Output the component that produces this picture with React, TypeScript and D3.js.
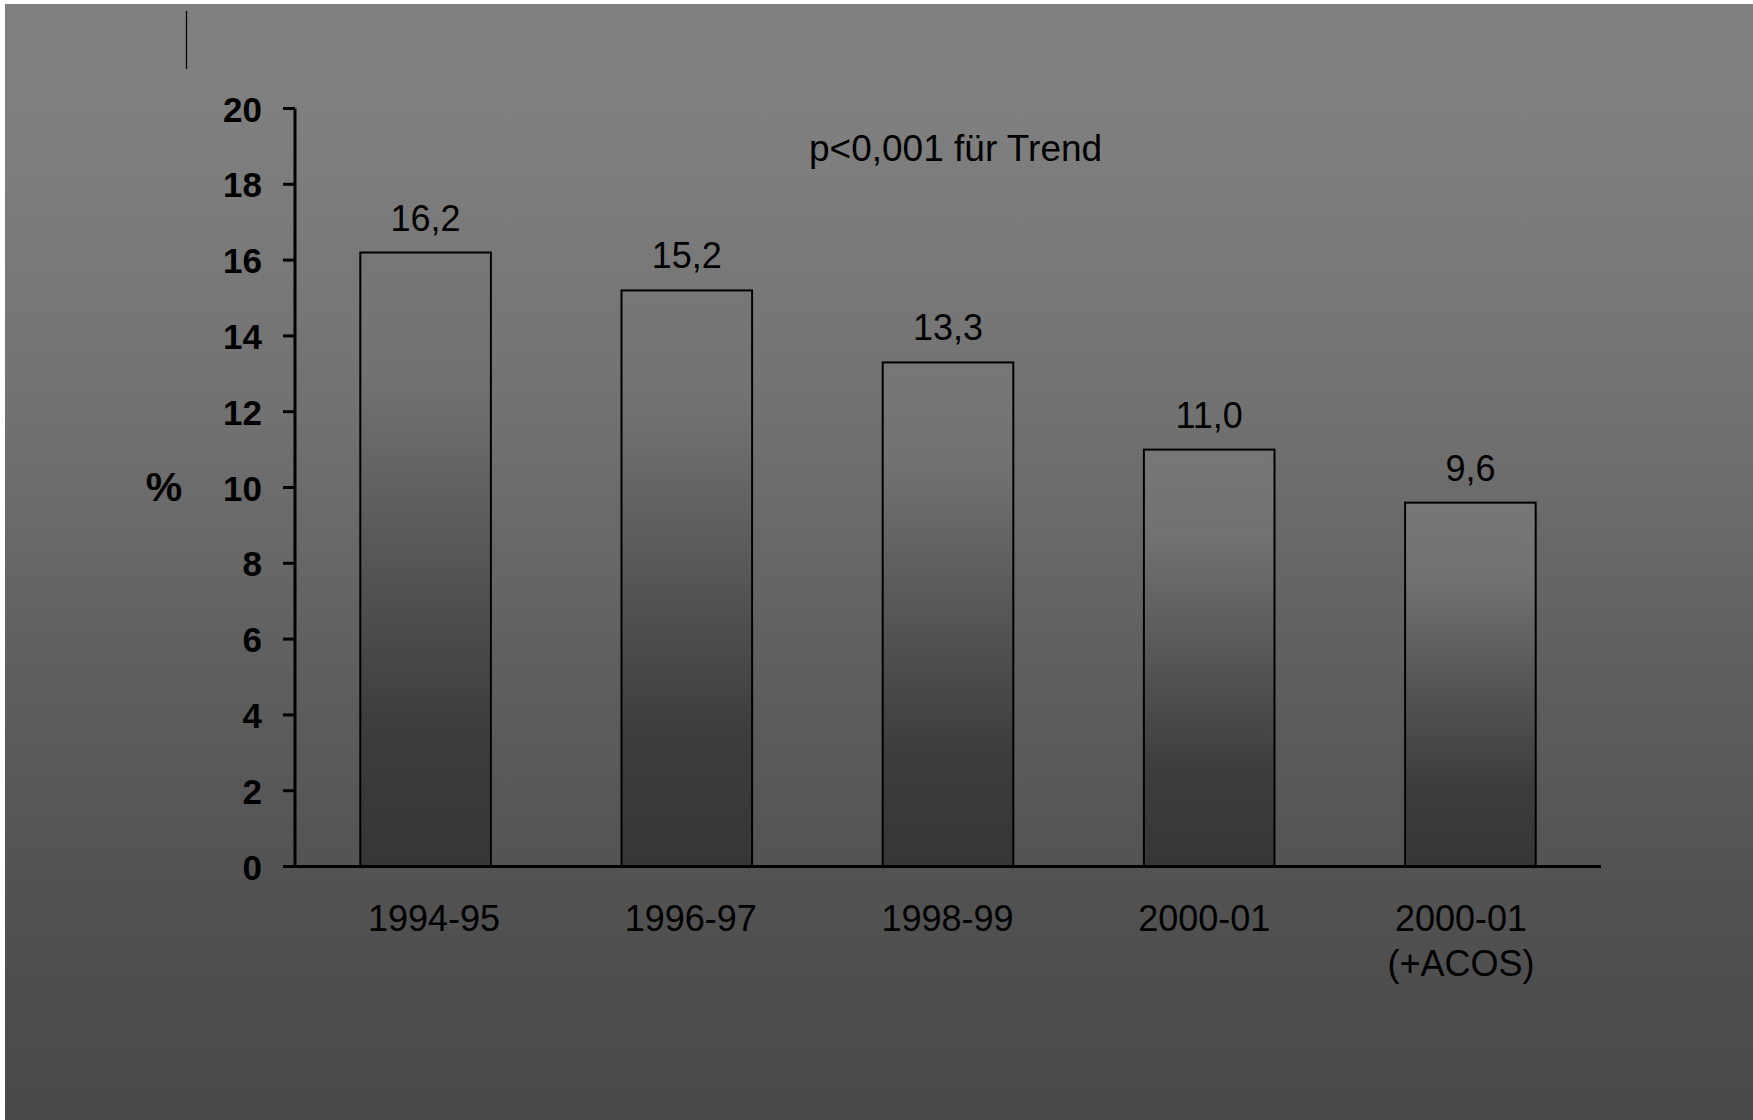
import React from "react";
import * as d3 from "d3";

const categories: string[][] = [
  ["1994-95"],
  ["1996-97"],
  ["1998-99"],
  ["2000-01"],
  ["2000-01", "(+ACOS)"],
];
const values: number[] = [16.2, 15.2, 13.3, 11.0, 9.6];
const valueLabels: string[] = ["16,2", "15,2", "13,3", "11,0", "9,6"];
const yTicks: number[] = [0, 2, 4, 6, 8, 10, 12, 14, 16, 18, 20];
const yAxisTitle = "%";
const annotation = "p<0,001 für Trend";

const W = 1753;
const H = 1120;
const FONT = "Arial, 'Liberation Sans', Helvetica, sans-serif";

export default function App() {
  const x0 = 295;
  const x1 = 1601;
  const yBase = 866.5;
  const yTop = 108.5;

  const keys = categories.map((c, i) => String(i));
  const x = d3
    .scaleBand<string>()
    .domain(keys)
    .range([x0, x1])
    .paddingInner(0.5)
    .paddingOuter(0.25);
  // category labels sit on a slightly narrower spread than the bars
  const xl = d3.scalePoint<string>().domain(keys).range([434, 1461]);
  const y = d3.scaleLinear().domain([0, 20]).range([yBase, yTop]);

  return (
    <svg
      width={W}
      height={H}
      style={{ position: "absolute", left: 0, top: 0, display: "block" }}
      xmlns="http://www.w3.org/2000/svg"
    >
      <defs>
        <linearGradient id="bg" x1="0" y1="0" x2="0" y2="1">
          <stop offset="0" stopColor="#808080" />
          <stop offset="0.13" stopColor="#7e7e7e" />
          <stop offset="0.36" stopColor="#727272" />
          <stop offset="0.62" stopColor="#5d5d5d" />
          <stop offset="0.78" stopColor="#535353" />
          <stop offset="1" stopColor="#484848" />
        </linearGradient>
        <linearGradient id="barGrad" x1="0" y1="0" x2="0" y2="1">
          <stop offset="0" stopColor="#777777" />
          <stop offset="0.2" stopColor="#727272" />
          <stop offset="0.5" stopColor="#565656" />
          <stop offset="0.78" stopColor="#3c3c3c" />
          <stop offset="1" stopColor="#363636" />
        </linearGradient>
      </defs>
      <rect x={0} y={0} width={W} height={H} fill="#ffffff" />
      <rect x={5} y={4} width={W - 5} height={H - 4} fill="url(#bg)" />

      {/* small vertical line at top-left */}
      <line x1={186.5} y1={11} x2={186.5} y2={69} stroke="#000" strokeWidth={1.3} />

      {/* annotation */}
      <text x={809} y={161} fontFamily={FONT} fontSize={37} fill="#000">
        {annotation}
      </text>

      {/* bars */}
      {values.map((v, i) => (
        <rect
          key={"b" + i}
          x={x(keys[i])!}
          y={y(v)}
          width={x.bandwidth()}
          height={yBase - y(v)}
          fill="url(#barGrad)"
          stroke="#000"
          strokeWidth={2}
        />
      ))}

      {/* value labels */}
      {values.map((v, i) => (
        <text
          key={"v" + i}
          x={x(keys[i])! + x.bandwidth() / 2}
          y={y(v) - 22}
          textAnchor="middle"
          fontFamily={FONT}
          fontSize={36}
          fill="#000"
        >
          {valueLabels[i]}
        </text>
      ))}

      {/* y axis */}
      <line x1={x0} y1={yTop} x2={x0} y2={yBase} stroke="#000" strokeWidth={3} />
      {yTicks.map((t) => (
        <g key={"t" + t}>
          <line x1={x0 - 12} y1={y(t)} x2={x0} y2={y(t)} stroke="#000" strokeWidth={3} />
          <text
            x={262}
            y={y(t) + 13}
            textAnchor="end"
            fontFamily={FONT}
            fontWeight="bold"
            fontSize={35}
            fill="#000"
          >
            {t}
          </text>
        </g>
      ))}
      <text
        x={164}
        y={501}
        textAnchor="middle"
        fontFamily={FONT}
        fontWeight="bold"
        fontSize={41}
        fill="#000"
      >
        {yAxisTitle}
      </text>

      {/* x axis */}
      <line x1={x0 - 12} y1={yBase} x2={x1} y2={yBase} stroke="#000" strokeWidth={3} />
      {categories.map((lines, i) => (
        <text
          key={"c" + i}
          x={xl(keys[i])!}
          y={931}
          textAnchor="middle"
          fontFamily={FONT}
          fontSize={36}
          fill="#000"
        >
          {lines.map((ln, j) => (
            <tspan key={j} x={xl(keys[i])!} dy={j === 0 ? 0 : 45}>
              {ln}
            </tspan>
          ))}
        </text>
      ))}
    </svg>
  );
}
